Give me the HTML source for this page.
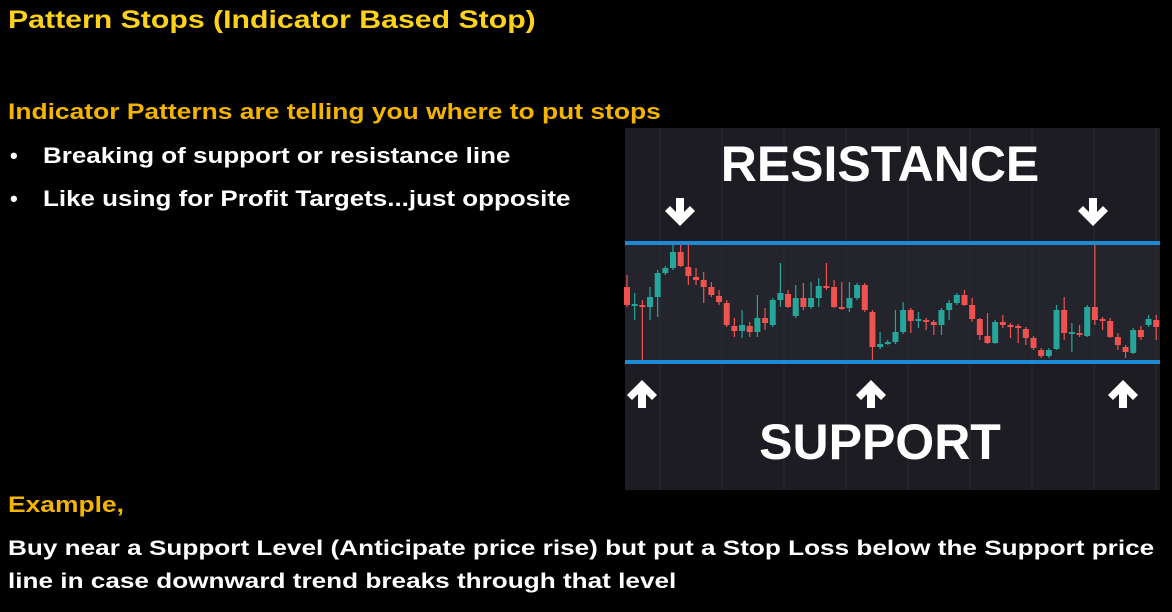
<!DOCTYPE html>
<html><head><meta charset="utf-8"><style>
body{margin:0;width:1172px;height:612px;background:#000;overflow:hidden;font-family:"Liberation Sans",sans-serif;font-weight:bold;position:relative}
.t{position:absolute;white-space:nowrap;transform-origin:0 0}
</style></head><body>
<div class="t" style="left:8px;top:6px;font-size:25px;color:#ffd21a;transform:scaleX(1.21)">Pattern Stops (Indicator Based Stop)</div>
<div class="t" style="left:8px;top:99px;font-size:22px;color:#f5b400;transform:scaleX(1.2)">Indicator Patterns are telling you where to put stops</div>
<div class="t" style="left:10px;top:143px;font-size:22px;color:#fff">•</div>
<div class="t" style="left:43px;top:143px;font-size:22px;color:#fff;transform:scaleX(1.18)">Breaking of support or resistance line</div>
<div class="t" style="left:10px;top:186px;font-size:22px;color:#fff">•</div>
<div class="t" style="left:43px;top:186px;font-size:22px;color:#fff;transform:scaleX(1.18)">Like using for Profit Targets...just opposite</div>
<div class="t" style="left:8px;top:492px;font-size:22px;color:#f5b400;transform:scaleX(1.2)">Example,</div>
<div class="t" style="left:8px;top:537px;font-size:21px;color:#fff;transform:scaleX(1.245)">Buy near a Support Level (Anticipate price rise) but put a Stop Loss below the Support price</div>
<div class="t" style="left:8px;top:570px;font-size:21px;color:#fff;transform:scaleX(1.245)">line in case downward trend breaks through that level</div>
<svg id="chart" width="1172" height="612" style="position:absolute;left:0;top:0">
<rect x="625" y="128" width="535" height="362" fill="#1c1c22"/>
<rect x="625" y="243" width="535" height="119" fill="#24242c"/>
<g id="grid"></g><g id="candles"></g>
<line x1="625" x2="1160" y1="243" y2="243" stroke="#1e8ad6" stroke-width="4"/>
<line x1="625" x2="1160" y1="362" y2="362" stroke="#1e8ad6" stroke-width="4"/>
<text x="880" y="181" text-anchor="middle" font-family="Liberation Sans" font-weight="bold" font-size="50" fill="#fff">RESISTANCE</text>
<text x="880" y="459" text-anchor="middle" font-family="Liberation Sans" font-weight="bold" font-size="50" fill="#fff">SUPPORT</text>
<g fill="#fff">
<path d="M676,198h8v14l6,-6l5,5l-15,15l-15,-15l5,-5l6,6z"/>
<path d="M1089,198h8v14l6,-6l5,5l-15,15l-15,-15l5,-5l6,6z"/>
<path d="M638,408h8v-14l6,6l5,-5l-15,-15l-15,15l5,5l6,-6z"/>
<path d="M867,408h8v-14l6,6l5,-5l-15,-15l-15,15l5,5l6,-6z"/>
<path d="M1119,408h8v-14l6,6l5,-5l-15,-15l-15,15l5,5l6,-6z"/>
</g>
</svg>
<script>
const opens=[83,64,65,63,73,97,102,118,103,93,90,83,74,67,44,39,44,38,52,45,70,76,54,72,63,72,84,83,63,62,72,85,58,23,26,28,38,60,49,50,48,45,60,67,75,65,51,34,27,48,45,44,41,32,20,14,21,60,37,37,34,63,51,49,33,23,17,40,45,50];
const closes=[65,66,64,73,97,102,118,104,94,90,83,75,68,45,39,45,38,52,47,70,77,63,72,63,72,84,82,63,61,72,85,60,23,26,28,38,60,49,51,48,45,60,67,75,65,51,35,27,48,45,43,42,32,22,14,20,60,37,38,35,63,50,49,33,25,18,40,33,51,43];
const highs=[95,77,70,83,100,104,125,125,125,102,98,88,80,70,52,60,48,75,62,72,107,80,85,87,88,92,107,90,88,88,87,87,60,38,30,60,68,62,58,52,50,62,70,77,80,72,52,57,50,55,47,46,43,34,22,22,65,73,47,45,65,125,53,52,37,25,42,44,55,55];
const lows=[63,50,10,50,53,95,100,103,85,85,67,73,65,43,33,32,33,33,40,43,63,62,52,60,61,63,80,62,60,58,70,58,10,21,25,26,36,37,42,40,35,35,50,65,64,48,30,26,26,42,32,27,25,20,12,12,20,30,18,33,33,45,40,32,20,12,16,30,43,30];
const pMin=-120,pMax=242;
function y(p){return 490-(p-pMin)*(490-128)/(pMax-pMin);}
function x(i){return 627+i*7.67;}
const NS="http://www.w3.org/2000/svg";
const grid=document.getElementById('grid');
for(let k=0;k<9;k++){const l=document.createElementNS(NS,'line');


const gx=660+k*62;l.setAttribute('x1',gx);l.setAttribute('x2',gx);l.setAttribute('y1',128);l.setAttribute('y2',490);l.setAttribute('stroke','#2a2a33');l.setAttribute('stroke-width','1');grid.appendChild(l);}
const g=document.getElementById('candles');
for(let i=0;i<opens.length;i++){
const up=closes[i]>=opens[i];const col=up?'#26a69a':'#ef5350';
const w=document.createElementNS(NS,'line');


w.setAttribute('x1',x(i));w.setAttribute('x2',x(i));w.setAttribute('y1',y(highs[i]));w.setAttribute('y2',y(lows[i]));w.setAttribute('stroke',col);w.setAttribute('stroke-width','1.2');g.appendChild(w);
const b=document.createElementNS(NS,'rect');


const t=y(Math.max(opens[i],closes[i])),bt=y(Math.min(opens[i],closes[i]));
b.setAttribute('x',x(i)-3);b.setAttribute('width',6);b.setAttribute('y',t);b.setAttribute('height',Math.max(2,bt-t));b.setAttribute('fill',col);g.appendChild(b);}
</script>
</body></html>
